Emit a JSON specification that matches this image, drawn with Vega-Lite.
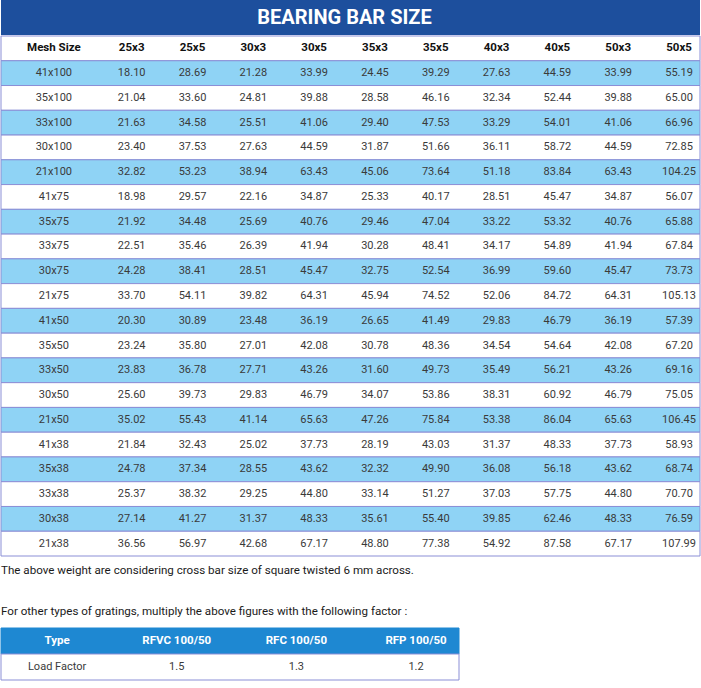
{
  "$schema": "https://vega.github.io/schema/vega-lite/v6.json",
  "padding": 0,
  "background": "white",
  "spacing": 0,
  "config": {"view": {"stroke": null}, "concat": {"spacing": 0}, "text": {"font": "Roboto"}, "axis": {"disable": true}},
  "datasets": {
    "weights": [
      {"m":"41x100","s":"25x3","w":18.10},{"m":"41x100","s":"25x5","w":28.69},{"m":"41x100","s":"30x3","w":21.28},{"m":"41x100","s":"30x5","w":33.99},{"m":"41x100","s":"35x3","w":24.45},{"m":"41x100","s":"35x5","w":39.29},{"m":"41x100","s":"40x3","w":27.63},{"m":"41x100","s":"40x5","w":44.59},{"m":"41x100","s":"50x3","w":33.99},{"m":"41x100","s":"50x5","w":55.19},
      {"m":"35x100","s":"25x3","w":21.04},{"m":"35x100","s":"25x5","w":33.60},{"m":"35x100","s":"30x3","w":24.81},{"m":"35x100","s":"30x5","w":39.88},{"m":"35x100","s":"35x3","w":28.58},{"m":"35x100","s":"35x5","w":46.16},{"m":"35x100","s":"40x3","w":32.34},{"m":"35x100","s":"40x5","w":52.44},{"m":"35x100","s":"50x3","w":39.88},{"m":"35x100","s":"50x5","w":65.00},
      {"m":"33x100","s":"25x3","w":21.63},{"m":"33x100","s":"25x5","w":34.58},{"m":"33x100","s":"30x3","w":25.51},{"m":"33x100","s":"30x5","w":41.06},{"m":"33x100","s":"35x3","w":29.40},{"m":"33x100","s":"35x5","w":47.53},{"m":"33x100","s":"40x3","w":33.29},{"m":"33x100","s":"40x5","w":54.01},{"m":"33x100","s":"50x3","w":41.06},{"m":"33x100","s":"50x5","w":66.96},
      {"m":"30x100","s":"25x3","w":23.40},{"m":"30x100","s":"25x5","w":37.53},{"m":"30x100","s":"30x3","w":27.63},{"m":"30x100","s":"30x5","w":44.59},{"m":"30x100","s":"35x3","w":31.87},{"m":"30x100","s":"35x5","w":51.66},{"m":"30x100","s":"40x3","w":36.11},{"m":"30x100","s":"40x5","w":58.72},{"m":"30x100","s":"50x3","w":44.59},{"m":"30x100","s":"50x5","w":72.85},
      {"m":"21x100","s":"25x3","w":32.82},{"m":"21x100","s":"25x5","w":53.23},{"m":"21x100","s":"30x3","w":38.94},{"m":"21x100","s":"30x5","w":63.43},{"m":"21x100","s":"35x3","w":45.06},{"m":"21x100","s":"35x5","w":73.64},{"m":"21x100","s":"40x3","w":51.18},{"m":"21x100","s":"40x5","w":83.84},{"m":"21x100","s":"50x3","w":63.43},{"m":"21x100","s":"50x5","w":104.25},
      {"m":"41x75","s":"25x3","w":18.98},{"m":"41x75","s":"25x5","w":29.57},{"m":"41x75","s":"30x3","w":22.16},{"m":"41x75","s":"30x5","w":34.87},{"m":"41x75","s":"35x3","w":25.33},{"m":"41x75","s":"35x5","w":40.17},{"m":"41x75","s":"40x3","w":28.51},{"m":"41x75","s":"40x5","w":45.47},{"m":"41x75","s":"50x3","w":34.87},{"m":"41x75","s":"50x5","w":56.07},
      {"m":"35x75","s":"25x3","w":21.92},{"m":"35x75","s":"25x5","w":34.48},{"m":"35x75","s":"30x3","w":25.69},{"m":"35x75","s":"30x5","w":40.76},{"m":"35x75","s":"35x3","w":29.46},{"m":"35x75","s":"35x5","w":47.04},{"m":"35x75","s":"40x3","w":33.22},{"m":"35x75","s":"40x5","w":53.32},{"m":"35x75","s":"50x3","w":40.76},{"m":"35x75","s":"50x5","w":65.88},
      {"m":"33x75","s":"25x3","w":22.51},{"m":"33x75","s":"25x5","w":35.46},{"m":"33x75","s":"30x3","w":26.39},{"m":"33x75","s":"30x5","w":41.94},{"m":"33x75","s":"35x3","w":30.28},{"m":"33x75","s":"35x5","w":48.41},{"m":"33x75","s":"40x3","w":34.17},{"m":"33x75","s":"40x5","w":54.89},{"m":"33x75","s":"50x3","w":41.94},{"m":"33x75","s":"50x5","w":67.84},
      {"m":"30x75","s":"25x3","w":24.28},{"m":"30x75","s":"25x5","w":38.41},{"m":"30x75","s":"30x3","w":28.51},{"m":"30x75","s":"30x5","w":45.47},{"m":"30x75","s":"35x3","w":32.75},{"m":"30x75","s":"35x5","w":52.54},{"m":"30x75","s":"40x3","w":36.99},{"m":"30x75","s":"40x5","w":59.60},{"m":"30x75","s":"50x3","w":45.47},{"m":"30x75","s":"50x5","w":73.73},
      {"m":"21x75","s":"25x3","w":33.70},{"m":"21x75","s":"25x5","w":54.11},{"m":"21x75","s":"30x3","w":39.82},{"m":"21x75","s":"30x5","w":64.31},{"m":"21x75","s":"35x3","w":45.94},{"m":"21x75","s":"35x5","w":74.52},{"m":"21x75","s":"40x3","w":52.06},{"m":"21x75","s":"40x5","w":84.72},{"m":"21x75","s":"50x3","w":64.31},{"m":"21x75","s":"50x5","w":105.13},
      {"m":"41x50","s":"25x3","w":20.30},{"m":"41x50","s":"25x5","w":30.89},{"m":"41x50","s":"30x3","w":23.48},{"m":"41x50","s":"30x5","w":36.19},{"m":"41x50","s":"35x3","w":26.65},{"m":"41x50","s":"35x5","w":41.49},{"m":"41x50","s":"40x3","w":29.83},{"m":"41x50","s":"40x5","w":46.79},{"m":"41x50","s":"50x3","w":36.19},{"m":"41x50","s":"50x5","w":57.39},
      {"m":"35x50","s":"25x3","w":23.24},{"m":"35x50","s":"25x5","w":35.80},{"m":"35x50","s":"30x3","w":27.01},{"m":"35x50","s":"30x5","w":42.08},{"m":"35x50","s":"35x3","w":30.78},{"m":"35x50","s":"35x5","w":48.36},{"m":"35x50","s":"40x3","w":34.54},{"m":"35x50","s":"40x5","w":54.64},{"m":"35x50","s":"50x3","w":42.08},{"m":"35x50","s":"50x5","w":67.20},
      {"m":"33x50","s":"25x3","w":23.83},{"m":"33x50","s":"25x5","w":36.78},{"m":"33x50","s":"30x3","w":27.71},{"m":"33x50","s":"30x5","w":43.26},{"m":"33x50","s":"35x3","w":31.60},{"m":"33x50","s":"35x5","w":49.73},{"m":"33x50","s":"40x3","w":35.49},{"m":"33x50","s":"40x5","w":56.21},{"m":"33x50","s":"50x3","w":43.26},{"m":"33x50","s":"50x5","w":69.16},
      {"m":"30x50","s":"25x3","w":25.60},{"m":"30x50","s":"25x5","w":39.73},{"m":"30x50","s":"30x3","w":29.83},{"m":"30x50","s":"30x5","w":46.79},{"m":"30x50","s":"35x3","w":34.07},{"m":"30x50","s":"35x5","w":53.86},{"m":"30x50","s":"40x3","w":38.31},{"m":"30x50","s":"40x5","w":60.92},{"m":"30x50","s":"50x3","w":46.79},{"m":"30x50","s":"50x5","w":75.05},
      {"m":"21x50","s":"25x3","w":35.02},{"m":"21x50","s":"25x5","w":55.43},{"m":"21x50","s":"30x3","w":41.14},{"m":"21x50","s":"30x5","w":65.63},{"m":"21x50","s":"35x3","w":47.26},{"m":"21x50","s":"35x5","w":75.84},{"m":"21x50","s":"40x3","w":53.38},{"m":"21x50","s":"40x5","w":86.04},{"m":"21x50","s":"50x3","w":65.63},{"m":"21x50","s":"50x5","w":106.45},
      {"m":"41x38","s":"25x3","w":21.84},{"m":"41x38","s":"25x5","w":32.43},{"m":"41x38","s":"30x3","w":25.02},{"m":"41x38","s":"30x5","w":37.73},{"m":"41x38","s":"35x3","w":28.19},{"m":"41x38","s":"35x5","w":43.03},{"m":"41x38","s":"40x3","w":31.37},{"m":"41x38","s":"40x5","w":48.33},{"m":"41x38","s":"50x3","w":37.73},{"m":"41x38","s":"50x5","w":58.93},
      {"m":"35x38","s":"25x3","w":24.78},{"m":"35x38","s":"25x5","w":37.34},{"m":"35x38","s":"30x3","w":28.55},{"m":"35x38","s":"30x5","w":43.62},{"m":"35x38","s":"35x3","w":32.32},{"m":"35x38","s":"35x5","w":49.90},{"m":"35x38","s":"40x3","w":36.08},{"m":"35x38","s":"40x5","w":56.18},{"m":"35x38","s":"50x3","w":43.62},{"m":"35x38","s":"50x5","w":68.74},
      {"m":"33x38","s":"25x3","w":25.37},{"m":"33x38","s":"25x5","w":38.32},{"m":"33x38","s":"30x3","w":29.25},{"m":"33x38","s":"30x5","w":44.80},{"m":"33x38","s":"35x3","w":33.14},{"m":"33x38","s":"35x5","w":51.27},{"m":"33x38","s":"40x3","w":37.03},{"m":"33x38","s":"40x5","w":57.75},{"m":"33x38","s":"50x3","w":44.80},{"m":"33x38","s":"50x5","w":70.70},
      {"m":"30x38","s":"25x3","w":27.14},{"m":"30x38","s":"25x5","w":41.27},{"m":"30x38","s":"30x3","w":31.37},{"m":"30x38","s":"30x5","w":48.33},{"m":"30x38","s":"35x3","w":35.61},{"m":"30x38","s":"35x5","w":55.40},{"m":"30x38","s":"40x3","w":39.85},{"m":"30x38","s":"40x5","w":62.46},{"m":"30x38","s":"50x3","w":48.33},{"m":"30x38","s":"50x5","w":76.59},
      {"m":"21x38","s":"25x3","w":36.56},{"m":"21x38","s":"25x5","w":56.97},{"m":"21x38","s":"30x3","w":42.68},{"m":"21x38","s":"30x5","w":67.17},{"m":"21x38","s":"35x3","w":48.80},{"m":"21x38","s":"35x5","w":77.38},{"m":"21x38","s":"40x3","w":54.92},{"m":"21x38","s":"40x5","w":87.58},{"m":"21x38","s":"50x3","w":67.17},{"m":"21x38","s":"50x5","w":107.99}
    ],
    "factors": [
      {"type":"RFVC 100/50","factor":1.5},
      {"type":"RFC 100/50","factor":1.3},
      {"type":"RFP 100/50","factor":1.2}
    ]
  },
  "vconcat": [
    {
      "width": 699,
      "height": 35,
      "data": {"values": [{"t": "BEARING BAR SIZE"}]},
      "layer": [
        {
          "mark": {"type": "rect", "fill": "#1d4f9d"},
          "encoding": {}
        },
        {
          "mark": {"type": "text", "font": "Roboto", "fontSize": 20, "fontWeight": "bold", "color": "white", "dx": -6},
          "encoding": {"text": {"field": "t", "type": "nominal"}}
        }
      ]
    },
    {
      "spacing": 28,
      "vconcat": [
        {
          "width": 699,
          "height": 520,
          "title": {
            "text": "The above weight are considering cross bar size of square twisted 6 mm across.",
            "orient": "bottom",
            "anchor": "start",
            "frame": "group",
            "font": "Roboto",
            "fontSize": 11.6,
            "fontWeight": "normal",
            "color": "#1a1a1a",
            "offset": 8
          },
          "layer": [
            {
              "data": {"values": [{"label": "Mesh Size"}]},
              "mark": {"type": "rect", "fill": "white", "stroke": "#8b8fd6", "strokeWidth": 1},
              "encoding": {
                "y": {"field": "label", "type": "nominal", "axis": null,
                  "scale": {"domain": ["Mesh Size","41x100","35x100","33x100","30x100","21x100","41x75","35x75","33x75","30x75","21x75","41x50","35x50","33x50","30x50","21x50","41x38","35x38","33x38","30x38","21x38"], "paddingInner": 0, "paddingOuter": 0}}
              }
            },
            {
              "data": {"name": "weights"},
              "transform": [{"filter": "datum.s === '25x3'"}],
              "mark": {"type": "rect", "stroke": "#8b8fd6", "strokeWidth": 1},
              "encoding": {
                "y": {"field": "m", "type": "nominal", "axis": null},
                "fill": {"condition": {"test": "indexof(['41x100','33x100','21x100','35x75','30x75','41x50','33x50','21x50','35x38','30x38'], datum.m) >= 0", "value": "#8fd3f5"}, "value": "white"}
              }
            },
            {
              "data": {"name": "weights"},
              "transform": [{"filter": "datum.s === '25x3'"}],
              "mark": {"type": "text", "fontSize": 11, "color": "#3a3a3a", "dx": -17},
              "encoding": {
                "x": {"datum": "Mesh Size", "type": "nominal", "axis": null},
                "y": {"field": "m", "type": "nominal", "axis": null},
                "text": {"field": "m", "type": "nominal"}
              }
            },
            {
              "data": {"name": "weights"},
              "transform": [{"filter": "datum.m === '41x100'"}],
              "mark": {"type": "text", "fontSize": 11.5, "fontWeight": "bold", "color": "#111111"},
              "encoding": {
                "x": {"field": "s", "type": "nominal", "axis": null},
                "y": {"datum": "Mesh Size", "type": "nominal", "axis": null},
                "text": {"field": "s", "type": "nominal"}
              }
            },
            {
              "data": {"values": [{"label": "Mesh Size"}]},
              "mark": {"type": "text", "fontSize": 11.5, "fontWeight": "bold", "color": "#111111", "dx": -17},
              "encoding": {
                "x": {"field": "label", "type": "nominal", "axis": null},
                "y": {"field": "label", "type": "nominal", "axis": null},
                "text": {"field": "label", "type": "nominal"}
              }
            },
            {
              "data": {"name": "weights"},
              "mark": {"type": "text", "fontSize": 11, "color": "#3a3a3a"},
              "encoding": {
                "x": {"field": "s", "type": "nominal", "axis": null,
                  "scale": {"type": "point", "domain": ["Mesh Size","25x3","25x5","30x3","30x5","35x3","35x5","40x3","40x5","50x3","50x5"], "padding": 0.747, "align": 0.769}},
                "y": {"field": "m", "type": "nominal", "axis": null},
                "text": {"field": "w", "type": "quantitative", "format": ".2f"}
              }
            }
          ]
        },
        {
          "width": 458,
          "height": 52,
          "title": {
            "text": "For other types of gratings, multiply the above figures with the following factor :",
            "orient": "top",
            "anchor": "start",
            "frame": "group",
            "font": "Roboto",
            "fontSize": 11.6,
            "fontWeight": "normal",
            "color": "#1a1a1a",
            "offset": 10
          },
          "layer": [
            {
              "data": {"values": [{"row": "Type"}, {"row": "Load Factor"}]},
              "mark": {"type": "rect", "strokeWidth": 1},
              "encoding": {
                "y": {"field": "row", "type": "nominal", "axis": null, "scale": {"domain": ["Type", "Load Factor"], "paddingInner": 0, "paddingOuter": 0}},
                "fill": {"condition": {"test": "datum.row === 'Type'", "value": "#1e88d2"}, "value": "white"},
                "stroke": {"condition": {"test": "datum.row === 'Type'", "value": "#1e88d2"}, "value": "#8b8fd6"}
              }
            },
            {
              "data": {"name": "factors"},
              "mark": {"type": "text", "fontSize": 11.5, "fontWeight": "bold", "color": "white"},
              "encoding": {
                "x": {"field": "type", "type": "nominal", "axis": null,
                  "scale": {"type": "point", "domain": ["Type", "RFVC 100/50", "RFC 100/50", "RFP 100/50"], "padding": 0.414, "align": 0.566}},
                "y": {"datum": "Type", "type": "nominal", "axis": null},
                "text": {"field": "type", "type": "nominal"}
              }
            },
            {
              "data": {"values": [{"label": "Type"}]},
              "mark": {"type": "text", "fontSize": 11.5, "fontWeight": "bold", "color": "white"},
              "encoding": {
                "x": {"field": "label", "type": "nominal", "axis": null},
                "y": {"field": "label", "type": "nominal", "axis": null},
                "text": {"field": "label", "type": "nominal"}
              }
            },
            {
              "data": {"name": "factors"},
              "mark": {"type": "text", "fontSize": 11, "color": "#3a3a3a"},
              "encoding": {
                "x": {"field": "type", "type": "nominal", "axis": null},
                "y": {"datum": "Load Factor", "type": "nominal", "axis": null},
                "text": {"field": "factor", "type": "quantitative", "format": ".1f"}
              }
            },
            {
              "data": {"values": [{"label": "Load Factor"}]},
              "mark": {"type": "text", "fontSize": 11, "color": "#3a3a3a"},
              "encoding": {
                "x": {"datum": "Type", "type": "nominal", "axis": null},
                "y": {"field": "label", "type": "nominal", "axis": null},
                "text": {"field": "label", "type": "nominal"}
              }
            }
          ]
        }
      ]
    }
  ]
}
